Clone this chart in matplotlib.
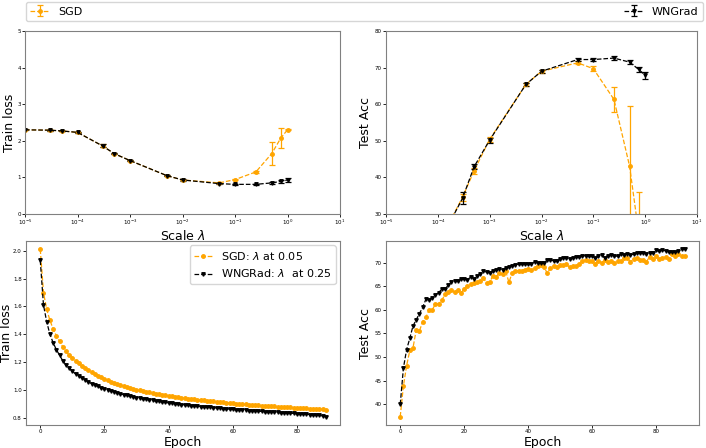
import numpy as np
import matplotlib
matplotlib.use("Agg")
import matplotlib.pyplot as plt

# step-size scale sweep
lam = [1e-5, 3e-5, 5e-5, 1e-4, 3e-4, 5e-4, 1e-3, 5e-3, 1e-2, 5e-2, 1e-1, 0.25, 0.5, 0.75, 1.0]

sgd_loss = [2.30, 2.29, 2.27, 2.23, 1.86, 1.65, 1.46, 1.05, 0.93, 0.85, 0.94, 1.15, 1.65, 2.08, 2.30]
sgd_loss_err = [0.01, 0.01, 0.01, 0.02, 0.04, 0.02, 0.02, 0.02, 0.01, 0.01, 0.02, 0.02, 0.32, 0.28, 0.01]
wn_loss = [2.30, 2.29, 2.27, 2.23, 1.86, 1.65, 1.46, 1.05, 0.93, 0.83, 0.81, 0.81, 0.85, 0.89, 0.93]
wn_loss_err = [0.01, 0.01, 0.01, 0.02, 0.04, 0.02, 0.02, 0.02, 0.02, 0.02, 0.02, 0.02, 0.03, 0.03, 0.05]

sgd_acc = [10.0, 10.0, 10.0, 21.5, 34.6, 41.8, 50.4, 65.4, 69.0, 71.3, 69.7, 61.3, 43.1, 24.8, 10.0]
sgd_acc_err = [0.0, 0.0, 0.0, 0.5, 1.0, 0.8, 0.6, 0.4, 0.4, 0.4, 0.7, 3.3, 16.4, 11.3, 0.0]
wn_acc = [10.0, 10.0, 12.0, 21.5, 34.3, 42.9, 50.2, 65.4, 69.0, 72.2, 72.2, 72.6, 71.5, 69.5, 67.9]
wn_acc_err = [0.0, 0.0, 0.0, 0.5, 1.6, 0.7, 0.7, 0.4, 0.4, 0.4, 0.5, 0.6, 0.5, 0.8, 1.0]

# per-epoch curves
sgd_train = [2.01, 1.70, 1.58, 1.50, 1.44, 1.39, 1.35, 1.31, 1.28, 1.25,
             1.23, 1.21, 1.19, 1.17, 1.155, 1.14, 1.13, 1.115, 1.10, 1.09,
             1.08, 1.07, 1.06, 1.05, 1.04, 1.035, 1.028, 1.02, 1.014, 1.008,
             1.002, 0.997, 0.992, 0.987, 0.982, 0.978, 0.973, 0.969, 0.965, 0.961,
             0.957, 0.954, 0.950, 0.947, 0.944, 0.941, 0.938, 0.935, 0.932, 0.929,
             0.927, 0.924, 0.922, 0.919, 0.917, 0.915, 0.912, 0.910, 0.908, 0.906,
             0.904, 0.902, 0.900, 0.898, 0.896, 0.894, 0.893, 0.891, 0.889, 0.887,
             0.886, 0.884, 0.883, 0.881, 0.880, 0.878, 0.877, 0.876, 0.874, 0.873,
             0.872, 0.870, 0.869, 0.868, 0.866, 0.865, 0.864, 0.862, 0.860, 0.857]
wn_train = [1.93, 1.61, 1.49, 1.40, 1.34, 1.29, 1.25, 1.21, 1.18, 1.155,
            1.135, 1.115, 1.10, 1.085, 1.07, 1.058, 1.046, 1.035, 1.025, 1.016,
            1.008, 1.000, 0.992, 0.985, 0.978, 0.972, 0.966, 0.960, 0.955, 0.950,
            0.945, 0.940, 0.936, 0.932, 0.928, 0.924, 0.920, 0.917, 0.913, 0.910,
            0.907, 0.904, 0.901, 0.898, 0.895, 0.893, 0.890, 0.888, 0.885, 0.883,
            0.880, 0.878, 0.876, 0.874, 0.872, 0.870, 0.868, 0.866, 0.864, 0.862,
            0.860, 0.858, 0.857, 0.855, 0.853, 0.852, 0.850, 0.848, 0.847, 0.845,
            0.844, 0.842, 0.841, 0.839, 0.838, 0.836, 0.835, 0.834, 0.832, 0.831,
            0.829, 0.828, 0.826, 0.825, 0.823, 0.821, 0.819, 0.817, 0.813, 0.808]
sgd_test = [37.4, 43.9, 48.2, 51.4, 52.0, 55.7, 55.5, 57.5, 58.4, 59.9,
            60.0, 61.2, 61.3, 62.0, 63.3, 63.7, 64.1, 63.8, 64.2, 63.5,
            64.5, 65.0, 65.4, 65.6, 65.8, 66.2, 66.7, 65.7, 65.9, 67.2,
            67.0, 67.8, 67.6, 68.2, 65.8, 67.8, 68.3, 68.3, 68.3, 68.5,
            68.6, 68.4, 68.9, 69.2, 69.4, 69.1, 67.7, 68.9, 69.3, 69.1,
            69.4, 69.5, 69.6, 69.0, 69.2, 69.3, 69.6, 70.4, 70.5, 70.3,
            70.3, 69.8, 70.3, 70.0, 70.6, 70.2, 70.3, 70.0, 70.3, 70.3,
            71.0, 70.9, 70.2, 70.7, 70.9, 70.5, 70.6, 70.2, 71.2, 70.7,
            71.3, 70.8, 71.0, 71.2, 70.7, 71.8, 71.5, 71.8, 71.3, 71.4]
wn_test = [40.0, 47.7, 51.6, 54.0, 56.6, 57.9, 59.2, 60.5, 62.2, 62.0,
           62.6, 63.2, 63.6, 64.4, 64.4, 65.2, 65.9, 66.2, 66.2, 66.6,
           66.6, 66.4, 66.9, 66.5, 67.1, 67.6, 68.2, 68.0, 67.9, 68.2,
           68.4, 68.7, 68.5, 68.8, 69.0, 69.3, 69.5, 69.7, 69.7, 69.6,
           69.8, 69.7, 70.1, 70.0, 70.0, 69.9, 70.6, 70.5, 70.4, 70.4,
           70.7, 71.0, 70.9, 70.8, 71.0, 71.2, 71.2, 71.5, 71.4, 71.4,
           71.4, 70.9, 71.4, 71.6, 71.0, 71.5, 71.6, 71.5, 71.3, 71.8,
           71.6, 71.9, 71.6, 71.8, 72.0, 72.0, 72.1, 71.9, 72.0, 72.1,
           72.6, 72.4, 72.6, 72.5, 72.3, 72.2, 72.2, 72.4, 72.8, 72.8]
epochs = np.arange(len(sgd_train))

ORANGE = "orange"
W, H = 706, 448

fig = plt.figure(figsize=(W / 100, H / 100), dpi=100)


def box(x0, y0, x1, y1):
    return [x0 / W, 1 - y1 / H, (x1 - x0) / W, (y1 - y0) / H]


ax1 = fig.add_axes(box(25, 31, 340, 214))
ax2 = fig.add_axes(box(386, 31, 697, 214))
ax3 = fig.add_axes(box(26, 241, 340, 425))
ax4 = fig.add_axes(box(386, 241, 699, 425))

eb = dict(ls="--", lw=0.9, capsize=2.5, elinewidth=0.9, capthick=0.9)

h_sgd = ax1.errorbar(lam, sgd_loss, yerr=sgd_loss_err, color=ORANGE, marker="o", ms=2.5, label="SGD", **eb)
h_wn = ax1.errorbar(lam, wn_loss, yerr=wn_loss_err, color="black", marker="v", ms=2.5, label="WNGrad", **eb)
ax1.set_ylim(0, 5)
ax1.set_ylabel("Train loss", fontsize=9, labelpad=1)

ax2.errorbar(lam, sgd_acc, yerr=sgd_acc_err, color=ORANGE, marker="o", ms=2.5, **eb)
ax2.errorbar(lam, wn_acc, yerr=wn_acc_err, color="black", marker="v", ms=2.5, **eb)
ax2.set_ylim(30, 80)
ax2.set_ylabel("Test Acc", fontsize=9, labelpad=2)

for ax in (ax1, ax2):
    ax.set_xscale("log")
    ax.set_xlim(1e-5, 1e1)
    ax.set_xticks([1e-5, 1e-4, 1e-3, 1e-2, 1e-1, 1e0, 1e1])
    ax.minorticks_off()
    ax.set_xlabel(r"Scale $\lambda$", fontsize=9, labelpad=1)

ax3.plot(epochs, sgd_train, ls="--", lw=0.9, color=ORANGE, marker="o", ms=2.5, label=r"SGD: $\lambda$ at 0.05")
ax3.plot(epochs, wn_train, ls="--", lw=0.9, color="black", marker="v", ms=2.5, label=r"WNGRad: $\lambda$  at 0.25")
ax3.set_ylabel("Train loss", fontsize=9, labelpad=0)
ax3.legend(loc="upper right", fontsize=8, handlelength=1.6, borderaxespad=0.4)

ax4.plot(epochs, sgd_test, ls="--", lw=0.9, color=ORANGE, marker="o", ms=2.5)
ax4.plot(epochs, wn_test, ls="--", lw=0.9, color="black", marker="v", ms=2.5)
ax4.set_ylabel("Test Acc", fontsize=9, labelpad=2)

for ax in (ax3, ax4):
    ax.set_xticks([0, 20, 40, 60, 80])
    ax.set_xlabel("Epoch", fontsize=9, labelpad=1)

for ax in (ax1, ax2, ax3, ax4):
    ax.tick_params(labelsize=4, length=2, width=0.6, pad=1)
    for s in ax.spines.values():
        s.set_color("#808080")

fig.legend([h_sgd, h_wn], ["SGD", "WNGrad"], loc="lower left", ncol=2, mode="expand",
           bbox_to_anchor=(26 / W, 1 - 21 / H, (703 - 26) / W, 19 / H), fontsize=8,
           borderaxespad=0, handlelength=1.7)

fig.savefig("out.png", dpi=100)
